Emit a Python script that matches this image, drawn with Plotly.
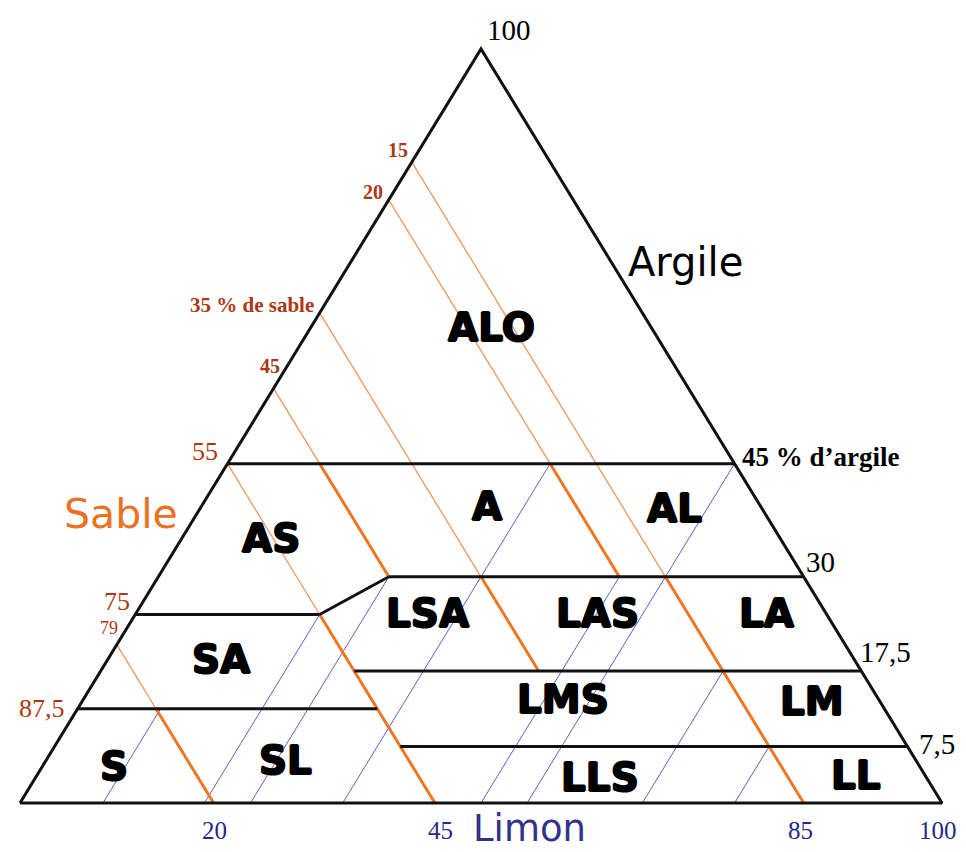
import plotly.graph_objects as go

# Class limits: clay level (%) and the sand range (%) each horizontal limit spans
limit_clay = [45, 30, 25, 17.5, 12.5, 7.5]
limit_sand_start = [55, 45, 75, 55, 87.5, 55]
limit_sand_end = [0, 0, 55, 0, 55, 0]

# Short oblique limit between LSA and AS / SA
oblique_clay = [30, 25]
oblique_sand = [45, 55]

# Orange iso-sand lines: thin from the left edge to sand_thin_end (clay %), then thick to sand_thick_end
sand_values = [15, 20, 35, 45, 55, 79]
sand_thin_end = [30, 45, 30, 45, 25, 12.5]
sand_thick_end = [0, 30, 17.5, 30, 0, 0]

# Blue iso-silt lines, from the base up to silt_top_clay
silt_values = [9, 20, 25, 35, 50, 55, 67.5, 77.5]
silt_top_clay = [12.5, 25, 30, 45, 30, 45, 17.5, 7.5]

# Texture classes, located by (clay %, silt %)
class_names = ["ALO", "A", "AL", "AS", "LSA", "LAS", "LA", "SA", "LMS", "LM", "S", "SL", "LLS", "LL"]
class_clay = [63, 39.3, 39.1, 35.1, 25.1, 25.1, 25.1, 19, 13.7, 13.5, 4.9, 5.6, 3.4, 3.6]
class_silt = [19.6, 31, 51.4, 9.7, 31.6, 50.1, 68.4, 12.3, 52, 79.1, 7.7, 26, 61.2, 88.9]

# Tick labels on the three sides
sand_ticks = [15, 20, 35, 45, 55, 75, 79, 87.5]
sand_text = ["15", "20", "35 % de sable", "45", "55", "75", "79", "87,5"]
clay_ticks = [100, 45, 30, 17.5, 7.5]
clay_text = ["100", "45 % d’argile", "30", "17,5", "7,5"]
silt_ticks = [20, 45, 85, 100]
silt_text = ["20", "45", "85", "100"]


def xy(clay, sand):
    # horizontal position = silt + clay/2, vertical = clay
    return 100 - sand - clay / 2, clay


def segments(pairs):
    xs, ys = [], []
    for (c0, s0), (c1, s1) in pairs:
        x0, y0 = xy(c0, s0)
        x1, y1 = xy(c1, s1)
        xs += [x0, x1, None]
        ys += [y0, y1, None]
    return xs, ys


BLACK = "#111111"
ORANGE = "rgb(240,118,35)"
ORANGE_THIN = "rgb(238,150,95)"
BLUE = "rgb(100,95,195)"
BROWN = "rgb(175,55,20)"
NAVY = "rgb(40,40,140)"
HEAVY = "1px 0 0 black, -1px 0 0 black, 0 1px 0 black, 0 -1px 0 black"

fig = go.Figure()

# blue iso-silt lines (silt constant: sand = 100 - clay - silt)
blue = [((0, 100 - s), (c, 100 - c - s)) for s, c in zip(silt_values, silt_top_clay)]
bx, by = segments(blue)
fig.add_trace(go.Scatter(x=bx, y=by, mode="lines", line=dict(color=BLUE, width=1), hoverinfo="skip"))

# orange iso-sand lines
thin = [((100 - s, s), (c, s)) for s, c in zip(sand_values, sand_thin_end)]
thick = [((c0, s), (c1, s)) for s, c0, c1 in zip(sand_values, sand_thin_end, sand_thick_end)]
tx, ty = segments(thin)
fig.add_trace(go.Scatter(x=tx, y=ty, mode="lines", line=dict(color=ORANGE_THIN, width=1.3), hoverinfo="skip"))
kx, ky = segments(thick)
fig.add_trace(go.Scatter(x=kx, y=ky, mode="lines", line=dict(color=ORANGE, width=3), hoverinfo="skip"))

# black class limits
limits = [((c, a), (c, b)) for c, a, b in zip(limit_clay, limit_sand_start, limit_sand_end)]
limits.append(((oblique_clay[0], oblique_sand[0]), (oblique_clay[1], oblique_sand[1])))
lx, ly = segments(limits)
fig.add_trace(go.Scatter(x=lx, y=ly, mode="lines", line=dict(color=BLACK, width=3), hoverinfo="skip"))

# triangle outline
corners = [(0, 100), (0, 0), (100, 0), (0, 100)]
ox = [xy(c, s)[0] for c, s in corners]
oy = [xy(c, s)[1] for c, s in corners]
fig.add_trace(go.Scatter(x=ox, y=oy, mode="lines", line=dict(color=BLACK, width=3), hoverinfo="skip"))

# class names
for name, c, si in zip(class_names, class_clay, class_silt):
    fig.add_annotation(x=si + c / 2, y=c, text=name, showarrow=False,
                       font=dict(family="DejaVu Sans", size=39, color="black", weight="bold",
                                 shadow=HEAVY))

# sand ticks on the left edge
sand_style = {
    "15": dict(size=20, bold=True, dx=-2, dy=12),
    "20": dict(size=20, bold=True, dx=-4, dy=8),
    "35 % de sable": dict(size=21, bold=True, dx=-4, dy=8),
    "45": dict(size=20, bold=True, dx=8, dy=22),
    "55": dict(size=26, bold=False, dx=-7, dy=12),
    "75": dict(size=26, bold=False, dx=-3, dy=13),
    "79": dict(size=18, bold=False, dx=3, dy=17),
    "87,5": dict(size=26, bold=False, dx=-11, dy=0),
}
for s, t in zip(sand_ticks, sand_text):
    st = sand_style[t]
    x, y = xy(100 - s, s)
    fig.add_annotation(x=x, y=y, text=t, showarrow=False, xanchor="right", yanchor="middle",
                       xshift=st["dx"], yshift=st["dy"],
                       font=dict(family="Liberation Serif", size=st["size"], color=BROWN,
                                 weight="bold" if st["bold"] else "normal"))

# clay ticks on the right edge
clay_style = {
    "100": dict(size=29, bold=False, dx=4, dy=19),
    "45 % d’argile": dict(size=27, bold=True, dx=5, dy=7),
    "30": dict(size=29, bold=False, dx=0, dy=15),
    "17,5": dict(size=29, bold=False, dx=-3, dy=19),
    "7,5": dict(size=29, bold=False, dx=10, dy=2),
}
for c, t in zip(clay_ticks, clay_text):
    st = clay_style[t]
    x, y = xy(c, 0)
    fig.add_annotation(x=x, y=y, text=t, showarrow=False, xanchor="left", yanchor="middle",
                       xshift=st["dx"], yshift=st["dy"],
                       font=dict(family="Liberation Serif", size=st["size"], color="black",
                                 weight="bold" if st["bold"] else "normal"))

# silt ticks on the base
silt_shift = {"20": 10, "45": 6, "85": -3, "100": -4}
for si, t in zip(silt_ticks, silt_text):
    x, y = xy(0, 100 - si)
    fig.add_annotation(x=x, y=y, text=t, showarrow=False, xanchor="center", yanchor="middle",
                       xshift=silt_shift[t], yshift=-27,
                       font=dict(family="Liberation Serif", size=25, color=NAVY))

# axis names
fig.add_annotation(x=72.2, y=71.8, text="Argile", showarrow=False,
                   font=dict(family="DejaVu Sans", size=40, color="black"))
fig.add_annotation(x=10.9, y=38.3, text="Sable", showarrow=False,
                   font=dict(family="DejaVu Sans", size=41, color="rgb(238,112,35)"))
fig.add_annotation(x=55.3, y=-3.4, text="Limon", showarrow=False,
                   font=dict(family="DejaVu Sans", size=37, color="rgb(50,50,140)"))

# the page adds an 8 px body margin, so the ranges place the triangle at its reference pixels
fig.update_layout(
    width=966, height=852,
    margin=dict(l=0, r=0, t=0, b=0),
    showlegend=False,
    plot_bgcolor="white", paper_bgcolor="white",
    xaxis=dict(range=[-1.3015, 103.471], visible=False, fixedrange=True),
    yaxis=dict(range=[-7.56, 105.438], visible=False, fixedrange=True),
)

fig.write_html("out.html")
